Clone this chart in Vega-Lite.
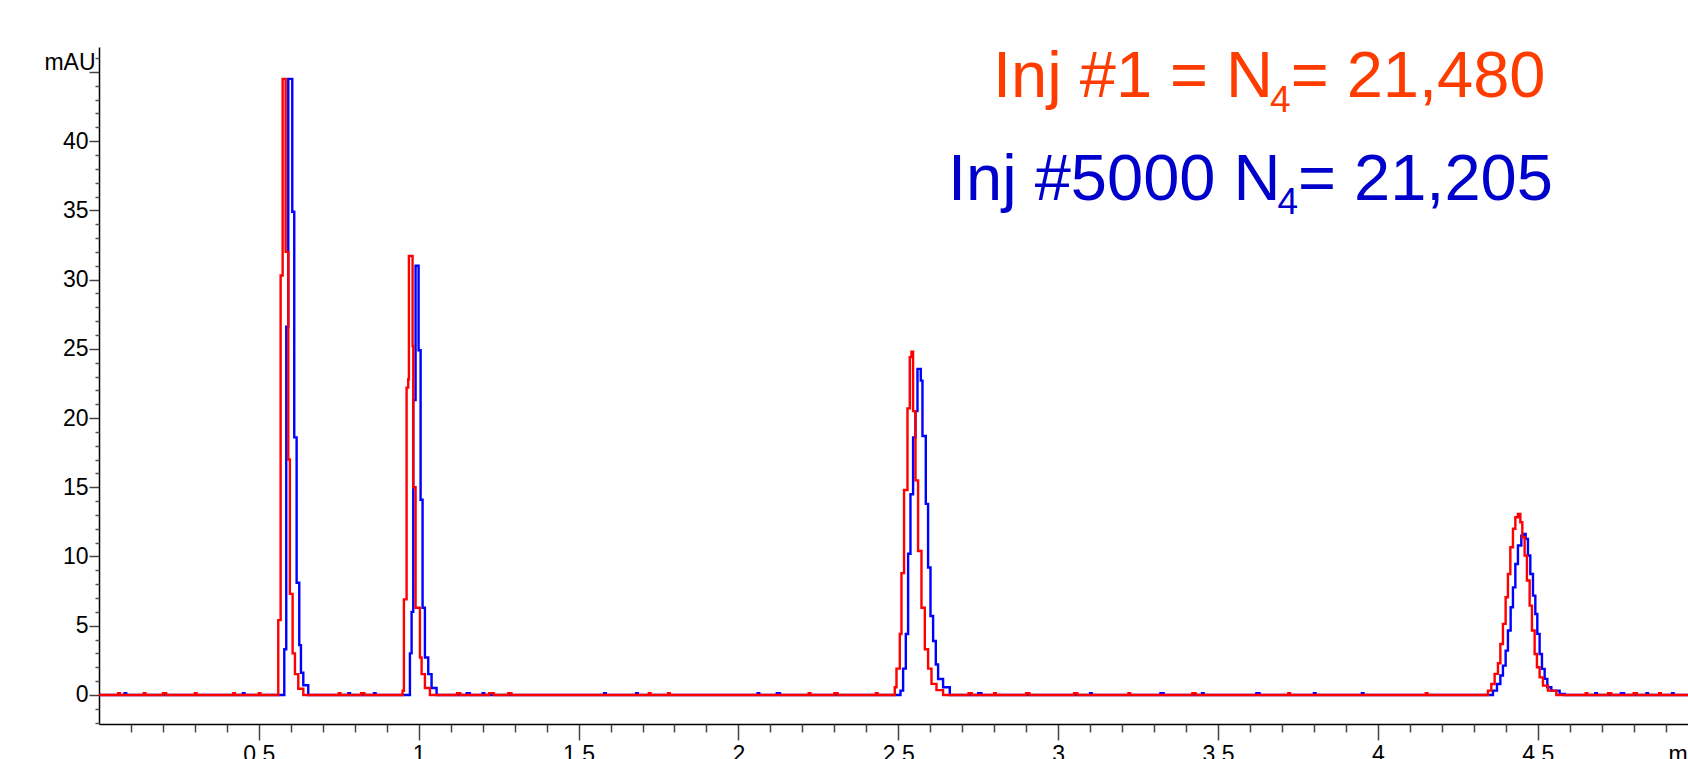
{
  "$schema": "https://vega.github.io/schema/vega-lite/v6.json",
  "width": 1589,
  "height": 677,
  "autosize": {"type": "none"},
  "padding": {"left": 99, "top": 47, "right": 0, "bottom": 35},
  "background": "white",
  "config": {"view": {"stroke": null}, "font": "Liberation Sans"},
  "datasets": {
    "curves": [
      {"s":"Inj #5000","t":0,"v":0},
      {"s":"Inj #5000","t":0.08,"v":0.13},{"s":"Inj #5000","t":0.085,"v":0},
      {"s":"Inj #5000","t":0.45,"v":0.13},{"s":"Inj #5000","t":0.455,"v":0},
      {"s":"Inj #5000","t":0.5795,"v":3.3},
      {"s":"Inj #5000","t":0.5857,"v":26.6},
      {"s":"Inj #5000","t":0.592,"v":44.5},
      {"s":"Inj #5000","t":0.6045,"v":34.9},
      {"s":"Inj #5000","t":0.6107,"v":18.6},
      {"s":"Inj #5000","t":0.6181,"v":8.1},
      {"s":"Inj #5000","t":0.6264,"v":3.6},
      {"s":"Inj #5000","t":0.6316,"v":1.6},
      {"s":"Inj #5000","t":0.639,"v":0.7},
      {"s":"Inj #5000","t":0.6545,"v":0},
      {"s":"Inj #5000","t":0.78,"v":0.13},{"s":"Inj #5000","t":0.785,"v":0},
      {"s":"Inj #5000","t":0.86,"v":0.13},{"s":"Inj #5000","t":0.865,"v":0},
      {"s":"Inj #5000","t":0.9725,"v":3.0},
      {"s":"Inj #5000","t":0.9777,"v":6.0},
      {"s":"Inj #5000","t":0.9829,"v":21.3},
      {"s":"Inj #5000","t":0.9902,"v":31.0},
      {"s":"Inj #5000","t":0.9996,"v":24.9},
      {"s":"Inj #5000","t":1.0059,"v":14.1},
      {"s":"Inj #5000","t":1.0121,"v":6.3},
      {"s":"Inj #5000","t":1.0194,"v":2.7},
      {"s":"Inj #5000","t":1.0298,"v":1.5},
      {"s":"Inj #5000","t":1.0402,"v":0.5},
      {"s":"Inj #5000","t":1.0559,"v":0},
      {"s":"Inj #5000","t":1.15,"v":0.13},{"s":"Inj #5000","t":1.16,"v":0},
      {"s":"Inj #5000","t":1.2,"v":0.13},{"s":"Inj #5000","t":1.205,"v":0},
      {"s":"Inj #5000","t":1.58,"v":0.13},{"s":"Inj #5000","t":1.585,"v":0},
      {"s":"Inj #5000","t":1.68,"v":0.13},{"s":"Inj #5000","t":1.685,"v":0},
      {"s":"Inj #5000","t":2.06,"v":0.13},{"s":"Inj #5000","t":2.065,"v":0},
      {"s":"Inj #5000","t":2.12,"v":0.13},{"s":"Inj #5000","t":2.13,"v":0},
      {"s":"Inj #5000","t":2.5068,"v":0.31},
      {"s":"Inj #5000","t":2.5151,"v":1.9},
      {"s":"Inj #5000","t":2.5235,"v":4.4},
      {"s":"Inj #5000","t":2.5307,"v":10.2},
      {"s":"Inj #5000","t":2.5381,"v":14.5},
      {"s":"Inj #5000","t":2.5463,"v":18.6},
      {"s":"Inj #5000","t":2.5537,"v":20.5},
      {"s":"Inj #5000","t":2.56,"v":23.55},
      {"s":"Inj #5000","t":2.5703,"v":22.7},
      {"s":"Inj #5000","t":2.5756,"v":18.7},
      {"s":"Inj #5000","t":2.586,"v":13.8},
      {"s":"Inj #5000","t":2.5932,"v":9.2},
      {"s":"Inj #5000","t":2.6007,"v":5.7},
      {"s":"Inj #5000","t":2.6089,"v":3.9},
      {"s":"Inj #5000","t":2.6173,"v":2.2},
      {"s":"Inj #5000","t":2.6245,"v":1.15},
      {"s":"Inj #5000","t":2.6401,"v":0.55},
      {"s":"Inj #5000","t":2.661,"v":0},
      {"s":"Inj #5000","t":2.75,"v":0.13},{"s":"Inj #5000","t":2.76,"v":0},
      {"s":"Inj #5000","t":2.9,"v":0.13},{"s":"Inj #5000","t":2.905,"v":0},
      {"s":"Inj #5000","t":3.1,"v":0.13},{"s":"Inj #5000","t":3.105,"v":0},
      {"s":"Inj #5000","t":3.32,"v":0.13},{"s":"Inj #5000","t":3.33,"v":0},
      {"s":"Inj #5000","t":3.45,"v":0.13},{"s":"Inj #5000","t":3.455,"v":0},
      {"s":"Inj #5000","t":3.62,"v":0.13},{"s":"Inj #5000","t":3.63,"v":0},
      {"s":"Inj #5000","t":3.8,"v":0.13},{"s":"Inj #5000","t":3.805,"v":0},
      {"s":"Inj #5000","t":3.95,"v":0.13},{"s":"Inj #5000","t":3.955,"v":0},
      {"s":"Inj #5000","t":4.36,"v":0.31},
      {"s":"Inj #5000","t":4.3725,"v":0.79},
      {"s":"Inj #5000","t":4.3831,"v":1.4},
      {"s":"Inj #5000","t":4.3912,"v":2.12},
      {"s":"Inj #5000","t":4.3996,"v":3.2},
      {"s":"Inj #5000","t":4.4068,"v":4.65},
      {"s":"Inj #5000","t":4.4153,"v":6.33},
      {"s":"Inj #5000","t":4.4225,"v":7.77},
      {"s":"Inj #5000","t":4.43,"v":9.46},
      {"s":"Inj #5000","t":4.4381,"v":10.79},
      {"s":"Inj #5000","t":4.4487,"v":11.51},
      {"s":"Inj #5000","t":4.4559,"v":11.63},
      {"s":"Inj #5000","t":4.4622,"v":11.27},
      {"s":"Inj #5000","t":4.4694,"v":10.07},
      {"s":"Inj #5000","t":4.4768,"v":8.74},
      {"s":"Inj #5000","t":4.4851,"v":7.17},
      {"s":"Inj #5000","t":4.4925,"v":5.85},
      {"s":"Inj #5000","t":4.4987,"v":4.41},
      {"s":"Inj #5000","t":4.5059,"v":2.96},
      {"s":"Inj #5000","t":4.5132,"v":1.88},
      {"s":"Inj #5000","t":4.5216,"v":1.16},
      {"s":"Inj #5000","t":4.53,"v":0.55},
      {"s":"Inj #5000","t":4.5424,"v":0.31},
      {"s":"Inj #5000","t":4.5685,"v":0.07},
      {"s":"Inj #5000","t":4.5841,"v":0},
      {"s":"Inj #5000","t":4.68,"v":0.13},{"s":"Inj #5000","t":4.685,"v":0},
      {"s":"Inj #5000","t":4.76,"v":0.13},{"s":"Inj #5000","t":4.77,"v":0},
      {"s":"Inj #5000","t":4.84,"v":0.13},{"s":"Inj #5000","t":4.845,"v":0},
      {"s":"Inj #5000","t":4.92,"v":0.13},{"s":"Inj #5000","t":4.925,"v":0},
      {"s":"Inj #5000","t":4.97,"v":0},

      {"s":"Inj #1","t":0,"v":0},
      {"s":"Inj #1","t":0.06,"v":0.13},{"s":"Inj #1","t":0.065,"v":0},
      {"s":"Inj #1","t":0.14,"v":0.13},{"s":"Inj #1","t":0.145,"v":0},
      {"s":"Inj #1","t":0.2,"v":0.13},{"s":"Inj #1","t":0.21,"v":0},
      {"s":"Inj #1","t":0.3,"v":0.13},{"s":"Inj #1","t":0.305,"v":0},
      {"s":"Inj #1","t":0.42,"v":0.13},{"s":"Inj #1","t":0.425,"v":0},
      {"s":"Inj #1","t":0.5,"v":0.13},{"s":"Inj #1","t":0.505,"v":0},
      {"s":"Inj #1","t":0.5607,"v":5.4},
      {"s":"Inj #1","t":0.5681,"v":30.3},
      {"s":"Inj #1","t":0.5744,"v":44.5},
      {"s":"Inj #1","t":0.5838,"v":32.0},
      {"s":"Inj #1","t":0.592,"v":17.0},
      {"s":"Inj #1","t":0.597,"v":7.3},
      {"s":"Inj #1","t":0.6056,"v":3.0},
      {"s":"Inj #1","t":0.6129,"v":1.5},
      {"s":"Inj #1","t":0.6233,"v":0.45},
      {"s":"Inj #1","t":0.639,"v":0},
      {"s":"Inj #1","t":0.75,"v":0.13},{"s":"Inj #1","t":0.755,"v":0},
      {"s":"Inj #1","t":0.82,"v":0.13},{"s":"Inj #1","t":0.83,"v":0},
      {"s":"Inj #1","t":0.9495,"v":0.3},
      {"s":"Inj #1","t":0.9537,"v":6.9},
      {"s":"Inj #1","t":0.9621,"v":22.2},
      {"s":"Inj #1","t":0.9672,"v":22.8},
      {"s":"Inj #1","t":0.9693,"v":31.7},
      {"s":"Inj #1","t":0.9808,"v":25.2},
      {"s":"Inj #1","t":0.9829,"v":15.0},
      {"s":"Inj #1","t":0.9902,"v":6.3},
      {"s":"Inj #1","t":1.0038,"v":2.7},
      {"s":"Inj #1","t":1.009,"v":1.5},
      {"s":"Inj #1","t":1.0194,"v":0.5},
      {"s":"Inj #1","t":1.035,"v":0},
      {"s":"Inj #1","t":1.12,"v":0.13},{"s":"Inj #1","t":1.13,"v":0},
      {"s":"Inj #1","t":1.22,"v":0.13},{"s":"Inj #1","t":1.235,"v":0},
      {"s":"Inj #1","t":1.28,"v":0.13},{"s":"Inj #1","t":1.29,"v":0},
      {"s":"Inj #1","t":1.72,"v":0.13},{"s":"Inj #1","t":1.725,"v":0},
      {"s":"Inj #1","t":1.78,"v":0.13},{"s":"Inj #1","t":1.785,"v":0},
      {"s":"Inj #1","t":2.22,"v":0.13},{"s":"Inj #1","t":2.225,"v":0},
      {"s":"Inj #1","t":2.3,"v":0.13},{"s":"Inj #1","t":2.31,"v":0},
      {"s":"Inj #1","t":2.43,"v":0.13},{"s":"Inj #1","t":2.435,"v":0},
      {"s":"Inj #1","t":2.489,"v":0.55},
      {"s":"Inj #1","t":2.4943,"v":1.9},
      {"s":"Inj #1","t":2.5047,"v":4.4},
      {"s":"Inj #1","t":2.5099,"v":8.8},
      {"s":"Inj #1","t":2.518,"v":14.8},
      {"s":"Inj #1","t":2.5287,"v":20.7},
      {"s":"Inj #1","t":2.5359,"v":24.4},
      {"s":"Inj #1","t":2.5412,"v":24.8},
      {"s":"Inj #1","t":2.5462,"v":20.5},
      {"s":"Inj #1","t":2.5537,"v":15.5},
      {"s":"Inj #1","t":2.5619,"v":10.4},
      {"s":"Inj #1","t":2.5725,"v":6.3},
      {"s":"Inj #1","t":2.5829,"v":3.3},
      {"s":"Inj #1","t":2.5932,"v":1.9},
      {"s":"Inj #1","t":2.6038,"v":0.8},
      {"s":"Inj #1","t":2.6194,"v":0.35},
      {"s":"Inj #1","t":2.6401,"v":0},
      {"s":"Inj #1","t":2.72,"v":0.13},{"s":"Inj #1","t":2.73,"v":0},
      {"s":"Inj #1","t":2.8,"v":0.13},{"s":"Inj #1","t":2.805,"v":0},
      {"s":"Inj #1","t":2.9,"v":0.13},{"s":"Inj #1","t":2.91,"v":0},
      {"s":"Inj #1","t":3.05,"v":0.13},{"s":"Inj #1","t":3.06,"v":0},
      {"s":"Inj #1","t":3.22,"v":0.13},{"s":"Inj #1","t":3.225,"v":0},
      {"s":"Inj #1","t":3.42,"v":0.13},{"s":"Inj #1","t":3.43,"v":0},
      {"s":"Inj #1","t":3.72,"v":0.13},{"s":"Inj #1","t":3.725,"v":0},
      {"s":"Inj #1","t":4.15,"v":0.13},{"s":"Inj #1","t":4.155,"v":0},
      {"s":"Inj #1","t":4.3443,"v":0.31},
      {"s":"Inj #1","t":4.3548,"v":0.79},
      {"s":"Inj #1","t":4.3652,"v":1.52},
      {"s":"Inj #1","t":4.3756,"v":2.29},
      {"s":"Inj #1","t":4.3831,"v":3.68},
      {"s":"Inj #1","t":4.3912,"v":5.13},
      {"s":"Inj #1","t":4.3996,"v":7.05},
      {"s":"Inj #1","t":4.4068,"v":8.74},
      {"s":"Inj #1","t":4.4143,"v":10.67},
      {"s":"Inj #1","t":4.4225,"v":12.0},
      {"s":"Inj #1","t":4.43,"v":12.83},
      {"s":"Inj #1","t":4.4381,"v":13.08},
      {"s":"Inj #1","t":4.4456,"v":12.47},
      {"s":"Inj #1","t":4.4518,"v":11.39},
      {"s":"Inj #1","t":4.459,"v":10.07},
      {"s":"Inj #1","t":4.4662,"v":8.26},
      {"s":"Inj #1","t":4.4747,"v":6.45},
      {"s":"Inj #1","t":4.4819,"v":4.65},
      {"s":"Inj #1","t":4.4903,"v":2.96},
      {"s":"Inj #1","t":4.4975,"v":2.0},
      {"s":"Inj #1","t":4.5059,"v":1.27},
      {"s":"Inj #1","t":4.5163,"v":0.67},
      {"s":"Inj #1","t":4.532,"v":0.31},
      {"s":"Inj #1","t":4.5582,"v":0},
      {"s":"Inj #1","t":4.65,"v":0.13},{"s":"Inj #1","t":4.655,"v":0},
      {"s":"Inj #1","t":4.72,"v":0.13},{"s":"Inj #1","t":4.73,"v":0},
      {"s":"Inj #1","t":4.8,"v":0.13},{"s":"Inj #1","t":4.81,"v":0},
      {"s":"Inj #1","t":4.88,"v":0.13},{"s":"Inj #1","t":4.885,"v":0},
      {"s":"Inj #1","t":4.97,"v":0}
    ],
    "notes": [
      {"s":"Inj #1","t":3.6722,"v":43.17,"a":"Inj #1 = N","b":"4","c":"= 21,480"},
      {"s":"Inj #5000","t":3.6953,"v":35.75,"a":"Inj #5000 N","b":"4","c":"= 21,205"}
    ]
  },
  "layer": [
    {
      "data": {"name": "curves"},
      "transform": [{"filter": "datum.s == 'Inj #5000'"}],
      "mark": {"type": "line", "color": "#0000FF", "strokeWidth": 2.4, "interpolate": "step-after"},
      "encoding": {
        "x": {"field": "t", "type": "quantitative", "scale": {"domain": [0, 4.97], "nice": false, "zero": false},
          "axis": {"orient": "bottom", "values": [0.5,1,1.5,2,2.5,3,3.5,4,4.5],
            "labelExpr": "format(datum.value, '~g')",
            "title": "min", "titleX": 1569, "titleY": 19, "titleAlign": "left", "titleBaseline": "top",
            "titleFontSize": 23, "titleFontWeight": "normal", "titleColor": "#000", "titleFont": "Liberation Sans",
            "grid": false, "tickSize": 16, "tickWidth": 1.5, "tickColor": "#444",
            "domainColor": "#000", "domainWidth": 1.5, "labelFontSize": 23, "labelFont": "Liberation Sans",
            "labelColor": "#000", "labelPadding": 3, "labelFlush": false, "labelOverlap": false, "labelBound": false}},
        "y": {"field": "v", "type": "quantitative", "scale": {"domain": [-2.1, 46.8], "nice": false, "zero": false},
          "axis": {"orient": "left", "values": [0,5,10,15,20,25,30,35,40,45],
            "labelExpr": "datum.value == 45 ? 'mAU' : format(datum.value, 'd')",
            "labelOffset": {"condition": {"test": "datum.value == 45", "value": -9}, "value": 0},
            "labelPadding": {"condition": {"test": "datum.value == 45", "value": -6}, "value": 1},
            "title": null, "grid": false, "tickSize": 10, "tickWidth": 1.5, "tickColor": "#444",
            "domainColor": "#000", "domainWidth": 1.5, "labelFontSize": 23, "labelFont": "Liberation Sans",
            "labelColor": "#000", "labelOverlap": false, "labelBound": false}},
        "order": {"field": "t", "type": "quantitative"}
      }
    },
    {
      "data": {"name": "curves"},
      "transform": [{"filter": "datum.s == 'Inj #1'"}],
      "mark": {"type": "line", "color": "#FF0000", "strokeWidth": 2.4, "interpolate": "step-after"},
      "encoding": {
        "x": {"field": "t", "type": "quantitative", "scale": {"domain": [0, 4.97], "nice": false, "zero": false},
          "axis": {"orient": "bottom", "values": [0.1,0.2,0.3,0.4,0.6,0.7,0.8,0.9,1.1,1.2,1.3,1.4,1.6,1.7,1.8,1.9,2.1,2.2,2.3,2.4,2.6,2.7,2.8,2.9,3.1,3.2,3.3,3.4,3.6,3.7,3.8,3.9,4.1,4.2,4.3,4.4,4.6,4.7,4.8,4.9],
            "labels": false, "domain": false, "title": null, "grid": false, "tickSize": 8, "tickWidth": 1.5, "tickColor": "#444"}},
        "y": {"field": "v", "type": "quantitative", "scale": {"domain": [-2.1, 46.8], "nice": false, "zero": false},
          "axis": {"orient": "left", "values": [-2,-1,1,2,3,4,6,7,8,9,11,12,13,14,16,17,18,19,21,22,23,24,26,27,28,29,31,32,33,34,36,37,38,39,41,42,43,44,46],
            "labels": false, "domain": false, "title": null, "grid": false, "tickSize": 4, "tickWidth": 1.5, "tickColor": "#555"}},
        "order": {"field": "t", "type": "quantitative"}
      }
    },
    {
      "data": {"name": "notes"},
      "mark": {"type": "text", "align": "right", "baseline": "alphabetic", "fontSize": 65, "font": "Liberation Sans"},
      "encoding": {
        "x": {"field": "t", "type": "quantitative", "scale": {"domain": [0, 4.97], "nice": false, "zero": false}, "axis": null},
        "y": {"field": "v", "type": "quantitative", "scale": {"domain": [-2.1, 46.8], "nice": false, "zero": false}, "axis": null},
        "color": {"field": "s", "type": "nominal", "scale": {"domain": ["Inj #1", "Inj #5000"], "range": ["#FF3C00", "#0000CC"]}, "legend": null},
        "text": {"field": "a"}
      }
    },
    {
      "data": {"name": "notes"},
      "mark": {"type": "text", "align": "left", "baseline": "alphabetic", "fontSize": 37, "font": "Liberation Sans", "dx": -3, "dy": 14.4},
      "encoding": {
        "x": {"field": "t", "type": "quantitative", "scale": {"domain": [0, 4.97], "nice": false, "zero": false}, "axis": null},
        "y": {"field": "v", "type": "quantitative", "scale": {"domain": [-2.1, 46.8], "nice": false, "zero": false}, "axis": null},
        "color": {"field": "s", "type": "nominal", "scale": {"domain": ["Inj #1", "Inj #5000"], "range": ["#FF3C00", "#0000CC"]}, "legend": null},
        "text": {"field": "b"}
      }
    },
    {
      "data": {"name": "notes"},
      "mark": {"type": "text", "align": "left", "baseline": "alphabetic", "fontSize": 65, "font": "Liberation Sans", "dx": 17.6},
      "encoding": {
        "x": {"field": "t", "type": "quantitative", "scale": {"domain": [0, 4.97], "nice": false, "zero": false}, "axis": null},
        "y": {"field": "v", "type": "quantitative", "scale": {"domain": [-2.1, 46.8], "nice": false, "zero": false}, "axis": null},
        "color": {"field": "s", "type": "nominal", "scale": {"domain": ["Inj #1", "Inj #5000"], "range": ["#FF3C00", "#0000CC"]}, "legend": null},
        "text": {"field": "c"}
      }
    }
  ],
  "resolve": {"axis": {"x": "independent", "y": "independent"}}
}
